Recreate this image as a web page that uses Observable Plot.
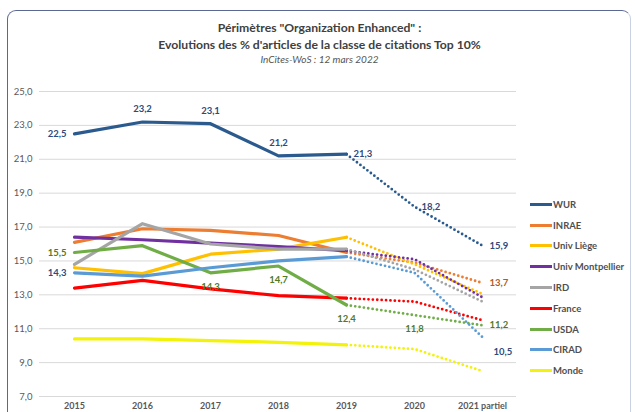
<!DOCTYPE html>
<html><head><meta charset="utf-8">
<script src="https://cdn.jsdelivr.net/npm/d3@7"></script>
<script src="https://cdn.jsdelivr.net/npm/@observablehq/plot@0.6"></script>
<style>
body{margin:0;background:#fff;font-family:Lato,"Open Sans",sans-serif;}
#wrap{position:relative;width:635px;height:412px;overflow:hidden;}
#frame{position:absolute;left:7px;top:10px;width:624px;height:420px;border:1.5px solid #5a6893;border-right-color:#c9d1e3;border-radius:9px;box-sizing:border-box;}
#title{position:absolute;left:7px;width:625px;top:19px;text-align:center;color:#404040;}
#title .t{font-weight:bold;font-size:12.2px;line-height:17px;}
#title .s{font-style:italic;font-size:10px;line-height:13px;color:#555;}
#chart{position:absolute;left:0;top:70px;}
#legend{position:absolute;left:530px;top:194px;}
#legend .it{display:flex;align-items:center;height:20.8px;font-size:9.5px;font-weight:bold;color:#505050;}
#legend .sw{width:22px;height:3px;margin-right:1px;}
</style></head>
<body><div id="wrap"><div id="frame"></div>
<div id="title"><div class="t">Périmètres "Organization Enhanced" :</div><div class="t">Evolutions des % d'articles de la classe de citations Top 10%</div><div class="s">InCites-WoS : 12 mars 2022</div></div>
<div id="chart"></div><div id="legend"></div></div>
<script>
const years = ["2015","2016","2017","2018","2019","2020","2021 partiel"];
const seriesNames = ["WUR","INRAE","Univ Liège","Univ Montpellier","IRD","France","USDA","CIRAD","Monde"];
const seriesColors = ["#2a5a8e","#ed7d31","#ffc000","#7030a0","#a5a5a5","#ff0000","#70ad47","#5b9bd5","#f2f20a"];
const labelColors = {"WUR":"#2f4a7a","INRAE":"#b25a26","USDA":"#4f7a28","CIRAD":"#2f4a7a"};
const WUR = [22.5,23.2,23.1,21.2,21.3,18.2,15.9];
const INRAE = [16.1,16.9,16.8,16.5,15.5,14.9,13.7];
const UnivLiege = [14.6,14.25,15.4,15.7,16.4,14.8,13.05];
const UnivMontpellier = [16.4,16.25,16.05,15.85,15.6,15.1,12.85];
const IRD = [14.8,17.2,16.0,15.7,15.7,14.5,12.6];
const France = [13.4,13.85,13.35,12.95,12.8,12.6,11.5];
const USDA = [15.5,15.9,14.3,14.7,12.4,11.8,11.2];
const CIRAD = [14.3,14.1,14.6,15.0,15.25,14.3,10.5];
const Monde = [10.4,10.4,10.3,10.2,10.05,9.8,8.5];
const yTicks = [7,9,11,13,15,17,19,21,23,25];
// which points carry a value label, grouped by placement
const labelsLeft = [["WUR","2015"],["USDA","2015"],["CIRAD","2015"]];
const labelsAbove = [["WUR","2016"],["WUR","2017"],["WUR","2018"]];
const labelsBelow = [["USDA","2017"],["USDA","2018"],["USDA","2019"],["USDA","2020"]];
const labelsRight = [["WUR","2019"],["WUR","2020"],["WUR","2021 partiel"],["INRAE","2021 partiel"],["USDA","2021 partiel"]];
const labelsRightBelow = [["CIRAD","2021 partiel"]];

const valuesBySeries = [WUR,INRAE,UnivLiege,UnivMontpellier,IRD,France,USDA,CIRAD,Monde];
const rows = [];
seriesNames.forEach((s,i)=>years.forEach((y,j)=>rows.push({series:s,year:y,value:valuesBySeries[i][j],idx:j})));
const solid = rows.filter(d=>d.idx<=4);
const dotted = rows.filter(d=>d.idx>=4);
const fmt = v => v.toFixed(1).replace(".",",");
const pick = list => rows.filter(d=>list.some(([s,y])=>s===d.series&&y===d.year));
const colorScale = {domain:seriesNames, range:seriesColors};
const lblFill = d => labelColors[d.series] || "#404040";
const tstyle = {text:d=>fmt(d.value), fill:lblFill, fontSize:9.5, fontWeight:"bold", x:"year", y:"value"};

const plot = Plot.plot({
  width:635, height:342,
  marginLeft:39, marginRight:119, marginTop:21, marginBottom:16,
  style:{fontFamily:"Lato, 'Open Sans', sans-serif", background:"transparent"},
  x:{type:"point", domain:years, padding:0.5},
  y:{domain:[7,25]},
  color:colorScale,
  marks:[
    Plot.gridY(yTicks,{stroke:"#d9d9d9", strokeOpacity:1, strokeWidth:1}),
    Plot.axisY({ticks:yTicks, tickSize:0, tickPadding:7, tickFormat:fmt, fontSize:9.5, fill:"#595959", label:null}),
    Plot.axisX({tickSize:0, tickPadding:6, fontSize:9, fontWeight:"bold", fill:"#595959", label:null}),
    Plot.line(solid,{x:"year", y:"value", z:"series", stroke:"series", strokeWidth:3.2, strokeLinejoin:"round"}),
    Plot.line(dotted,{x:"year", y:"value", z:"series", stroke:"series", strokeWidth:2.8, strokeDasharray:"0,4.4", strokeLinecap:"round"}),
    Plot.text(pick(labelsLeft),{...tstyle, dx:-8, textAnchor:"end"}),
    Plot.text(pick(labelsAbove),{...tstyle, dy:-13}),
    Plot.text(pick(labelsBelow),{...tstyle, dy:14}),
    Plot.text(pick(labelsRight),{...tstyle, dx:7, textAnchor:"start"}),
    Plot.text(pick(labelsRightBelow),{...tstyle, dx:11, dy:15, textAnchor:"start"})
  ]
});
document.getElementById("chart").appendChild(plot);

const lg = d3.select("#legend");
seriesNames.forEach((s,i)=>{
  const it = lg.append("div").attr("class","it");
  it.append("div").attr("class","sw").style("background",seriesColors[i]);
  it.append("span").text(s);
});
</script></body></html>
